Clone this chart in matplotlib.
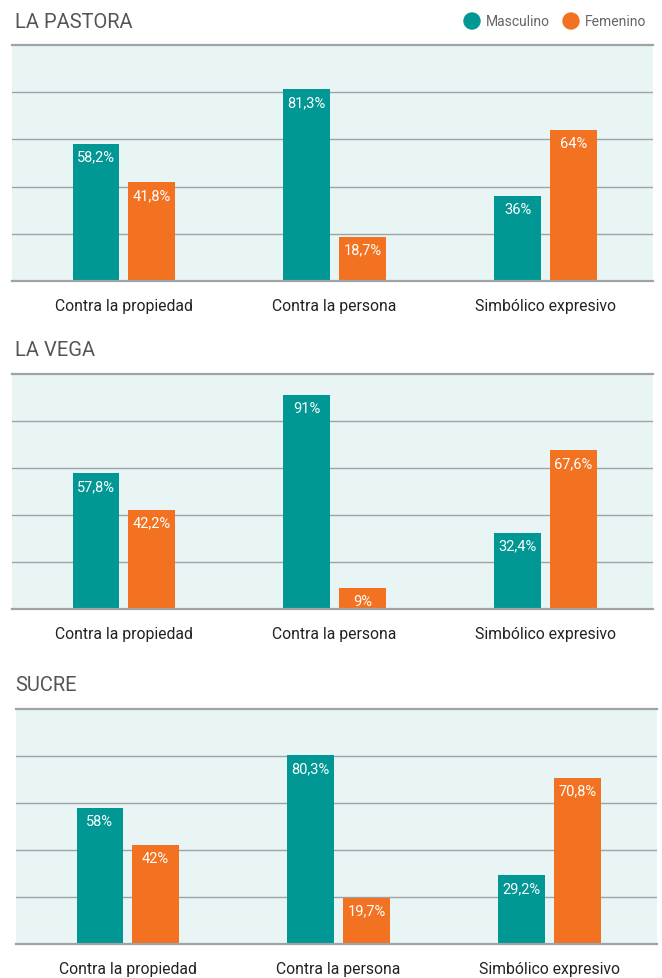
import numpy as np
import matplotlib.pyplot as plt
from matplotlib.patches import Ellipse

# data
categories = ['Contra la propiedad', 'Contra la persona', 'Simbólico expresivo']
zones = ['LA PASTORA', 'LA VEGA', 'SUCRE']
masculino = [[58.2, 81.3, 36.0], [57.8, 91.0, 32.4], [58.0, 80.3, 29.2]]
femenino = [[41.8, 18.7, 64.0], [42.2, 9.0, 67.6], [42.0, 19.7, 70.8]]
series_names = ['Masculino', 'Femenino']

TEAL = '#009794'
ORANGE = '#F37221'
BG = '#E9F5F5'
GRID = '#9DA3A6'
FONT = ['Roboto', 'DejaVu Sans']


def fmt(v):
    s = f"{v:.1f}".replace('.', ',')
    if s.endswith(',0'):
        s = s[:-2]
    return s + '%'


fig = plt.figure(figsize=(6.62, 9.79), dpi=100)
W, H = 662, 979

# axes boxes in pixels: left, top, right, bottom
boxes = [(12, 46, 653, 282), (12, 375, 653, 610), (16, 710, 657, 945)]

x = np.arange(len(categories))
bw = 0.222
off = 0.132

for i, (l, t, r, b) in enumerate(boxes):
    ax = fig.add_axes([l / W, 1 - b / H, (r - l) / W, (b - t) / H])
    ax.set_facecolor(BG)
    ax.set_xlim(-0.53, 2.51)
    ax.set_ylim(0, 100)
    for gy in [20, 40, 60, 80]:
        ax.axhline(gy, color=GRID, lw=1.0, zorder=1)
    ax.axhline(100, color=GRID, lw=1.6, zorder=1, clip_on=False)
    ax.axhline(0, color=GRID, lw=1.6, zorder=4, clip_on=False)
    for s in ax.spines.values():
        s.set_visible(False)
    ax.set_yticks([])
    ax.set_xticks(x)
    ax.set_xticklabels(categories, family=FONT, fontsize=11.3, color='#222222')
    ax.tick_params(axis='x', length=0, pad=12)

    m = masculino[i]
    f = femenino[i]
    ax.bar(x - off, m, width=bw, color=TEAL, zorder=3)
    ax.bar(x + off, f, width=bw, color=ORANGE, zorder=3)
    for xi, v in zip(x - off, m):
        ax.text(xi, v - 2.5, fmt(v), ha='center', va='top', color='white',
                family=FONT, fontsize=10.5, zorder=5)
    for xi, v in zip(x + off, f):
        ax.text(xi, v - 2.5, fmt(v), ha='center', va='top', color='white',
                family=FONT, fontsize=10.5, zorder=5)

    fig.text(15 / W, 1 - (t - 24) / H, zones[i], family=FONT, fontsize=14.5,
             color='#555555', va='center', ha='left')

# legend
for cx, tx, col, name in [(472, 486, TEAL, series_names[0]), (571, 585, ORANGE, series_names[1])]:
    fig.patches.append(Ellipse((cx / W, 1 - 22 / H), 16 / W, 16 / H,
                               transform=fig.transFigure, color=col))
    fig.text(tx / W, 1 - 22 / H, name, family=FONT, fontsize=10, color='#666666',
             va='center', ha='left')

fig.savefig('out.png', dpi=100)
